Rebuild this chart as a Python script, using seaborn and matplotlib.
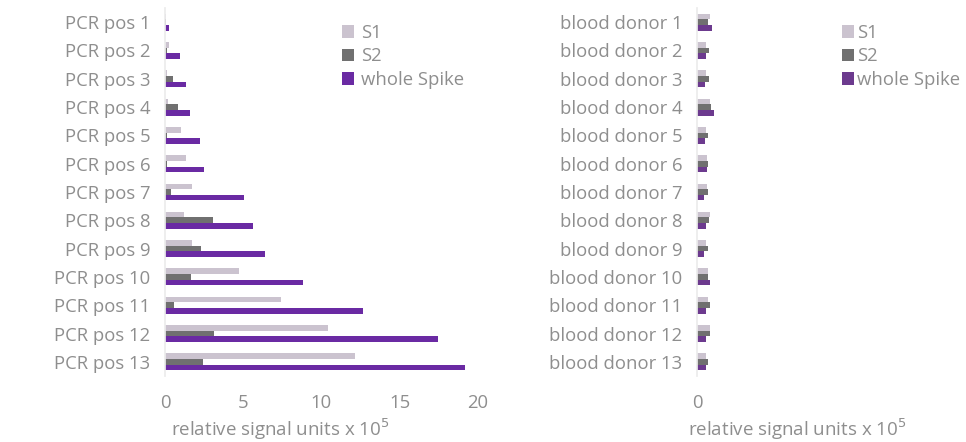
import numpy as np
import pandas as pd
import matplotlib
matplotlib.use('Agg')
import matplotlib.pyplot as plt
import seaborn as sns

# values (relative signal units x 10^5)
pcr_labels = ['PCR pos %d' % i for i in range(1, 14)]
pcr_s1 = [0.05, 0.25, 0.15, 0.2, 1.0, 1.32, 1.75, 1.19, 1.72, 4.73, 7.41, 10.44, 12.17]
pcr_s2 = [0.05, 0.1, 0.5, 0.83, 0.1, 0.1, 0.38, 3.04, 2.28, 1.64, 0.55, 3.15, 2.45]
pcr_spike = [0.25, 0.96, 1.34, 1.62, 2.24, 2.49, 5.05, 5.62, 6.41, 8.84, 12.63, 17.45, 19.17]

donor_labels = ['blood donor %d' % i for i in range(1, 14)]
donor_s1 = [0.81, 0.6, 0.57, 0.81, 0.57, 0.64, 0.64, 0.81, 0.57, 0.68, 0.68, 0.81, 0.6]
donor_s2 = [0.68, 0.74, 0.74, 0.91, 0.7, 0.72, 0.72, 0.79, 0.68, 0.72, 0.81, 0.81, 0.7]
donor_spike = [0.98, 0.6, 0.53, 1.06, 0.53, 0.64, 0.47, 0.6, 0.47, 0.81, 0.6, 0.6, 0.57]

series = ['S1', 'S2', 'whole Spike']
pcr_colors = ['#cbc3cf', '#707070', '#6a2aa3']
donor_colors = ['#cbc3cf', '#707070', '#6c3a8e']
TXT = '#8e8e8e'


def long_frame(labels, s1, s2, spike):
    rows = []
    for name, vals in zip(series, [s1, s2, spike]):
        for lab, v in zip(labels, vals):
            rows.append({'sample': lab, 'series': name, 'value': v})
    return pd.DataFrame(rows)


def draw_panel(ax, df, labels, colors, xlim, xticks):
    sns.barplot(ax=ax, data=df, y='sample', x='value', hue='series',
                order=labels, hue_order=series, palette=colors,
                width=0.6, saturation=1, orient='h', linewidth=0,
                legend=True)
    ax.set_xlim(*xlim)
    ax.set_xticks(xticks)
    ax.set_ylabel('')
    ax.set_xlabel('relative signal units x 10$^5$', color=TXT, fontsize=13.5)
    ax.xaxis.label.set_horizontalalignment('left')
    ax.tick_params(axis='both', length=0, colors=TXT, labelsize=13.3)
    ax.tick_params(axis='y', pad=10.5)
    ax.tick_params(axis='x', pad=13)
    for s in ['top', 'right', 'bottom']:
        ax.spines[s].set_visible(False)
    ax.spines['left'].set_color('#ececec')
    ax.grid(False)


sns.set_theme(style='white')
plt.rcParams['font.family'] = ['Open Sans', 'DejaVu Sans']

fig = plt.figure(figsize=(9.66, 4.42), dpi=100)
ax1 = fig.add_axes([165 / 966, 1 - 376 / 442, 313 / 966, 368 / 442])
ax2 = fig.add_axes([697 / 966, 1 - 376 / 442, 263 / 966, 368 / 442])

draw_panel(ax1, long_frame(pcr_labels, pcr_s1, pcr_s2, pcr_spike),
           pcr_labels, pcr_colors, (0, 20), [0, 5, 10, 15, 20])
draw_panel(ax2, long_frame(donor_labels, donor_s1, donor_s2, donor_spike),
           donor_labels, donor_colors, (0, 263 / 15.65), [0])

ax1.xaxis.set_label_coords(6 / 313, -0.11)
ax2.xaxis.set_label_coords(-9 / 263, -0.11)

ax1.legend(loc='upper left', bbox_to_anchor=(0.566, 0.957), frameon=False,
           fontsize=13.3, labelcolor=TXT, handlelength=0.65, handleheight=0.65,
           handletextpad=0.35, labelspacing=0.3, borderaxespad=0, borderpad=0)
ax2.legend(loc='upper left', bbox_to_anchor=(0.553, 0.957), frameon=False,
           fontsize=13.3, labelcolor=TXT, handlelength=0.65, handleheight=0.65,
           handletextpad=0.15, labelspacing=0.3, borderaxespad=0, borderpad=0)

fig.savefig('out.png', dpi=100, facecolor='white')
